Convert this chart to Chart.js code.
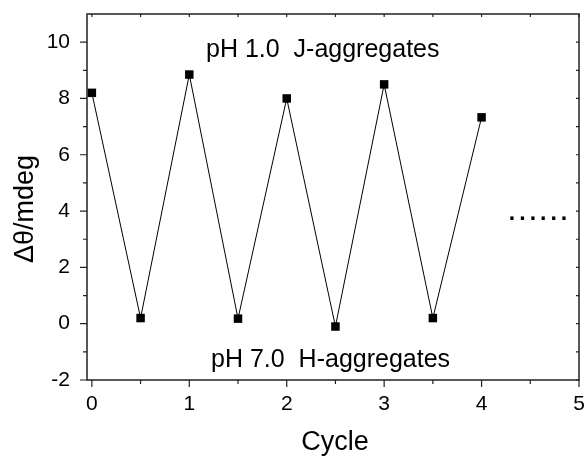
<!DOCTYPE html>
<html>
<head>
<meta charset="utf-8">
<script src="https://cdn.jsdelivr.net/npm/chart.js@4"></script>
<style>
  html, body { margin: 0; padding: 0; background: #fff; }
  #wrap { width: 585px; height: 456px; }
</style>
</head>
<body>
<div id="wrap"><canvas id="cycleChart" width="585" height="456"></canvas></div>
<script>
// Data
const cycles = [0, 0.5, 1, 1.5, 2, 2.5, 3, 3.5, 4];
const deltaTheta = [8.2, 0.2, 8.85, 0.18, 8.0, -0.1, 8.5, 0.2, 7.33];
const xTickLabels = [0, 1, 2, 3, 4, 5];
const yTickLabels = [-2, 0, 2, 4, 6, 8, 10];
const xMinorTicks = [0.5, 1.5, 2.5, 3.5, 4.5];
const yMinorTicks = [-1, 1, 3, 5, 7, 9];

const FONT = "'Liberation Sans', Arial, sans-serif";

// Text placed on the plot (positions in data units)
const annotations = [
  { text: "pH 1.0  J-aggregates", x: 2.37, y: 9.47 },
  { text: "pH 7.0  H-aggregates", x: 2.45, y: -1.54 }
];

// Frame, tick marks, axis titles and annotations
const framePlugin = {
  id: "frame",
  afterDraw(chart) {
    const ctx = chart.ctx;
    const area = chart.chartArea;
    const xs = chart.scales.x;
    const ys = chart.scales.y;
    ctx.save();
    ctx.strokeStyle = "#222";
    ctx.lineWidth = 1.5;
    ctx.strokeRect(area.left, area.top, area.right - area.left, area.bottom - area.top);

    ctx.lineWidth = 1.2;
    ctx.beginPath();
    // bottom: major + minor, outward
    xTickLabels.forEach((v) => {
      const px = xs.getPixelForValue(v);
      ctx.moveTo(px, area.bottom);
      ctx.lineTo(px, area.bottom + 7);
    });
    xMinorTicks.forEach((v) => {
      const px = xs.getPixelForValue(v);
      ctx.moveTo(px, area.bottom);
      ctx.lineTo(px, area.bottom + 4);
    });
    // left: major + minor, outward
    yTickLabels.forEach((v) => {
      const py = ys.getPixelForValue(v);
      ctx.moveTo(area.left, py);
      ctx.lineTo(area.left - 7, py);
    });
    yMinorTicks.forEach((v) => {
      const py = ys.getPixelForValue(v);
      ctx.moveTo(area.left, py);
      ctx.lineTo(area.left - 4, py);
    });
    // top: short ticks inward
    xTickLabels.concat(xMinorTicks).forEach((v) => {
      const px = xs.getPixelForValue(v);
      ctx.moveTo(px, area.top);
      ctx.lineTo(px, area.top + 3);
    });
    // right: short ticks
    yTickLabels.concat(yMinorTicks).forEach((v) => {
      const py = ys.getPixelForValue(v);
      ctx.moveTo(area.right, py);
      ctx.lineTo(area.right - 3, py);
    });
    ctx.stroke();

    // annotations
    ctx.fillStyle = "#000";
    ctx.font = "25px " + FONT;
    ctx.textAlign = "center";
    ctx.textBaseline = "alphabetic";
    annotations.forEach((a) => {
      ctx.fillText(a.text, xs.getPixelForValue(a.x), ys.getPixelForValue(a.y));
    });

    // "......" continuation mark
    ctx.font = "bold 23px " + FONT;
    ctx.textAlign = "left";
    if ("letterSpacing" in ctx) ctx.letterSpacing = "4px";
    ctx.fillText("......", xs.getPixelForValue(4.28), ys.getPixelForValue(3.68));
    if ("letterSpacing" in ctx) ctx.letterSpacing = "0px";

    // axis titles
    ctx.font = "27px " + FONT;
    ctx.textAlign = "center";
    ctx.textBaseline = "middle";
    ctx.fillText("Cycle", (area.left + area.right) / 2 + 2, 443);
    ctx.translate(26, 209);
    ctx.rotate(-Math.PI / 2);
    ctx.fillText("Δθ/mdeg", 0, 0);
    ctx.restore();
  }
};

const ctx = document.getElementById("cycleChart").getContext("2d");

new Chart(ctx, {
  type: "scatter",
  data: {
    datasets: [
      {
        data: cycles.map((c, i) => ({ x: c, y: deltaTheta[i] })),
        showLine: true,
        borderColor: "#000",
        borderWidth: 1,
        backgroundColor: "#000",
        pointStyle: "rect",
        pointRadius: 6,
        pointBorderWidth: 0,
        pointHoverRadius: 6
      }
    ]
  },
  options: {
    responsive: false,
    animation: false,
    events: [],
    layout: { padding: { top: 14, right: 2, left: 0, bottom: 0 } },
    plugins: {
      legend: { display: false },
      tooltip: { enabled: false }
    },
    scales: {
      x: {
        type: "linear",
        min: -0.05,
        max: 5,
        grid: { display: false },
        border: { display: false },
        afterBuildTicks: (scale) => {
          scale.ticks = xTickLabels.map((v) => ({ value: v }));
        },
        afterFit: (scale) => {
          scale.height = 76;
          scale.paddingLeft = 0;
          scale.paddingRight = 0;
        },
        ticks: {
          color: "#000",
          font: { family: FONT, size: 21 },
          padding: 4,
          maxRotation: 0
        }
      },
      y: {
        type: "linear",
        min: -2,
        max: 11,
        grid: { display: false },
        border: { display: false },
        afterBuildTicks: (scale) => {
          scale.ticks = yTickLabels.map((v) => ({ value: v }));
        },
        afterFit: (scale) => {
          scale.width = 87;
          scale.paddingTop = 0;
          scale.paddingBottom = 0;
        },
        ticks: {
          color: "#000",
          font: { family: FONT, size: 21 },
          padding: 9
        }
      }
    }
  },
  plugins: [framePlugin]
});
</script>
</body>
</html>
